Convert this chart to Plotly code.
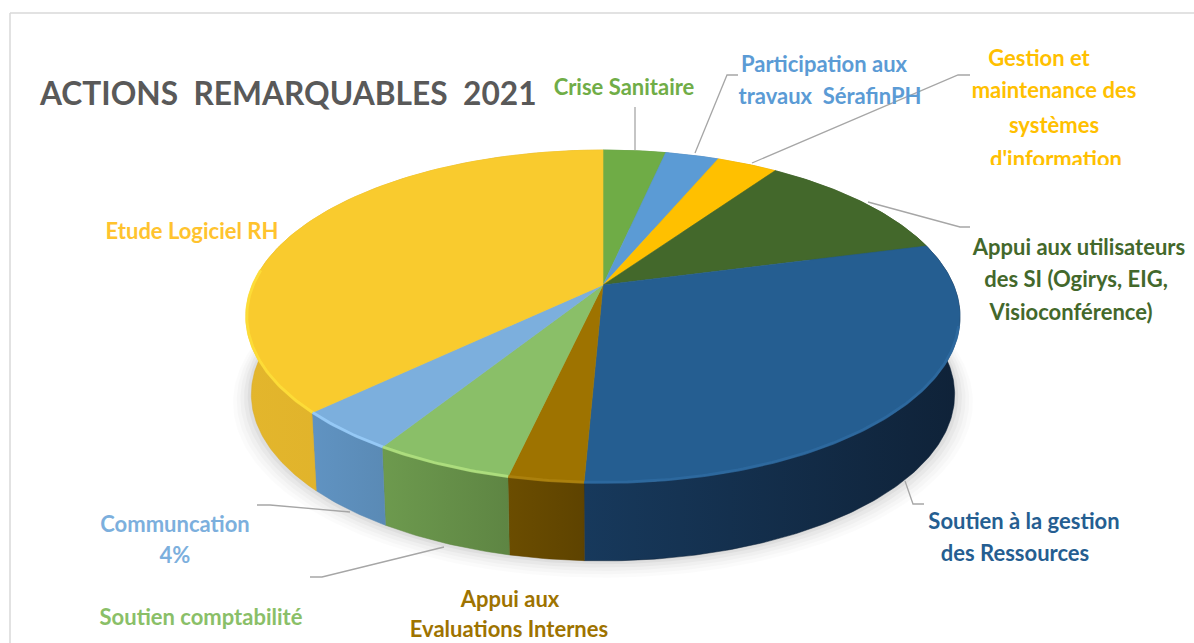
import numpy as np
import plotly.graph_objects as go

categories = ["Crise Sanitaire", "Participation aux travaux SérafinPH",
              "Gestion et maintenance des systèmes d'information",
              "Appui aux utilisateurs des SI (Ogirys, EIG, Visioconférence)",
              "Soutien à la gestion des Ressources", "Appui aux Evaluations Internes",
              "Soutien comptabilité", "Communcation", "Etude Logiciel RH"]
values = [3.4, 2.9, 3.3, 11.3, 29.8, 2.85, 5.32, 3.96, 37.17]
top_colors = ["#6fac46", "#5b9bd5", "#ffc000", "#43682b", "#255e91", "#9e7300", "#8abf68", "#7cafdd", "#f9cb2e"]
rim_colors = ["#8fd060", "#80bdf0", "#ffd84a", "#5c8a3c", "#2f6ca3", "#b08510", "#b8e884", "#9ed2ff", "#ffe23a"]
side_from = ["#5a8a38", "#497ca9", "#cc9a00", "#35521f", "#17395c", "#6b4d00", "#6d9a4e", "#6093c2", "#e3b62c"]
side_to = ["#5a8a38", "#497ca9", "#cc9a00", "#35521f", "#0f2238", "#5e4300", "#5e8543", "#5a8ab5", "#d9aa28"]

label_lines = [
    ("Crise Sanitaire", 624, 89, "#70ad47"),
    ("Participation aux", 824, 66, "#5b9bd5"),
    ("travaux  SérafinPH", 830, 98, "#5b9bd5"),
    ("Gestion et", 1039, 60, "#ffc000"),
    ("maintenance des", 1054, 92, "#ffc000"),
    ("systèmes", 1054, 127, "#ffc000"),
    ("d'information", 1056, 161, "#ffc000"),
    ("Appui aux utilisateurs", 1079, 249, "#43682b"),
    ("des SI (Ogirys, EIG,", 1076, 281, "#43682b"),
    ("Visioconférence)", 1071, 314, "#43682b"),
    ("Soutien à la gestion", 1024, 523, "#255e91"),
    ("des Ressources", 1015, 555, "#255e91"),
    ("Appui aux", 510, 601, "#9e7300"),
    ("Evaluations Internes", 509, 631, "#9e7300"),
    ("Soutien comptabilité", 201, 619, "#8abf68"),
    ("Communcation", 175, 526, "#7cafdd"),
    ("4%", 175, 557, "#7cafdd"),
    ("Etude Logiciel RH", 192, 233, "#ffc32e"),
]
leaders = [
    ([635, 635], [107, 150]),
    ([738, 727, 695], [75, 75, 153]),
    ([970, 958, 752], [75, 75, 163]),
    ([868, 960, 970], [202, 227, 227]),
    ([905, 913, 924], [481, 504, 504]),
    ([310, 322, 444], [577, 577, 547]),
    ([257, 270, 350], [505, 505, 512]),
]

# Projection of the round pie onto the picture
cx, cy = 603.0, 285.0
A, B, k = 350.6, 160.5, 0.189
depth = 78.0
base_scale = 0.985


def project(theta, r=1.0, dy=0.0, sx=1.0):
    X, Y = r * np.sin(theta), r * np.cos(theta)
    w = 1 + k * Y
    return cx + sx * A * X / w, cy - B * Y / w + dy


fig = go.Figure()

# soft shadow under the base
full = np.linspace(0, 2 * np.pi, 361)
for grow, alpha in [(1.05, 0.015), (1.04, 0.02), (1.03, 0.025), (1.02, 0.03), (1.01, 0.04)]:
    sx, sy = project(full, grow, depth + (grow - 1) * 90, base_scale)
    fig.add_trace(go.Scatter(x=sx, y=sy, mode="lines", fill="toself", line=dict(width=0),
                             fillcolor=f"rgba(0,0,0,{alpha})", hoverinfo="skip"))

edges = np.cumsum([0.0] + values) / sum(values) * 2 * np.pi
arcs = [np.linspace(edges[i], edges[i + 1], max(3, int((edges[i + 1] - edges[i]) * 80)))
        for i in range(len(values))]

# side walls
for i, arc in enumerate(arcs):
    tx, ty = project(arc)
    bx, by = project(arc, 1.0, depth, base_scale)
    fig.add_trace(go.Scatter(
        x=np.r_[tx, bx[::-1], tx[0]], y=np.r_[ty, by[::-1], ty[0]], mode="lines", fill="toself",
        line=dict(width=0.5, color=side_to[i]),
        fillgradient=dict(type="horizontal", colorscale=[[0, side_from[i]], [1, side_to[i]]]),
        name=categories[i], hoverinfo="skip"))

# top faces
for i, arc in enumerate(arcs):
    tx, ty = project(arc)
    fig.add_trace(go.Scatter(
        x=np.r_[cx, tx, cx], y=np.r_[cy, ty, cy], mode="lines", fill="toself",
        fillcolor=top_colors[i], line=dict(width=0.6, color=top_colors[i]),
        name=categories[i], hovertemplate=f"{categories[i]}: {values[i]}%<extra></extra>"))

# bevel highlight along the front edge
for i, arc in enumerate(arcs):
    front = arc[(np.sin(arc) < 0.97) & (np.cos(arc) < 0.1)]
    if len(front) < 2:
        continue
    tx, ty = project(front, 0.998)
    fig.add_trace(go.Scatter(x=tx, y=ty, mode="lines", line=dict(width=3, color=rim_colors[i]),
                             opacity=0.75, hoverinfo="skip"))

# leader lines
for lx, ly in leaders:
    fig.add_trace(go.Scatter(x=lx, y=ly, mode="lines", line=dict(width=1.3, color="#a6a6a6"),
                             hoverinfo="skip"))

# labels
fig.add_trace(go.Scatter(
    x=[l[1] for l in label_lines], y=[l[2] for l in label_lines], text=[l[0] for l in label_lines],
    mode="text", textposition="middle center", hoverinfo="skip",
    textfont=dict(family="Lato", size=22, weight="bold", color=[l[3] for l in label_lines])))

fig.update_layout(
    width=1194, height=643, autosize=False, showlegend=False, paper_bgcolor="white", plot_bgcolor="white",
    margin=dict(l=0, r=0, t=0, b=0),
    xaxis=dict(range=[0, 1194], visible=False, fixedrange=True),
    yaxis=dict(range=[643, 0], visible=False, fixedrange=True),
    title=dict(text="<b>ACTIONS  REMARQUABLES  2021</b>", x=40 / 1194, xanchor="left",
               y=1 - 94 / 643, yanchor="middle", font=dict(family="Lato", size=31.7, color="#595959")),
    shapes=[
        dict(type="rect", x0=980, x1=1130, y0=165, y1=178, fillcolor="white", line_width=0, layer="above"),
        dict(type="line", x0=10, x1=10, y0=13, y1=643, line=dict(color="#d9d9d9", width=1.5)),
        dict(type="line", x0=10, x1=1194, y0=13, y1=13, line=dict(color="#d9d9d9", width=1.5)),
    ],
)
fig.write_html("out.html", config={"displayModeBar": False},
               post_script="document.body.style.margin='0';document.body.style.overflow='hidden';")
